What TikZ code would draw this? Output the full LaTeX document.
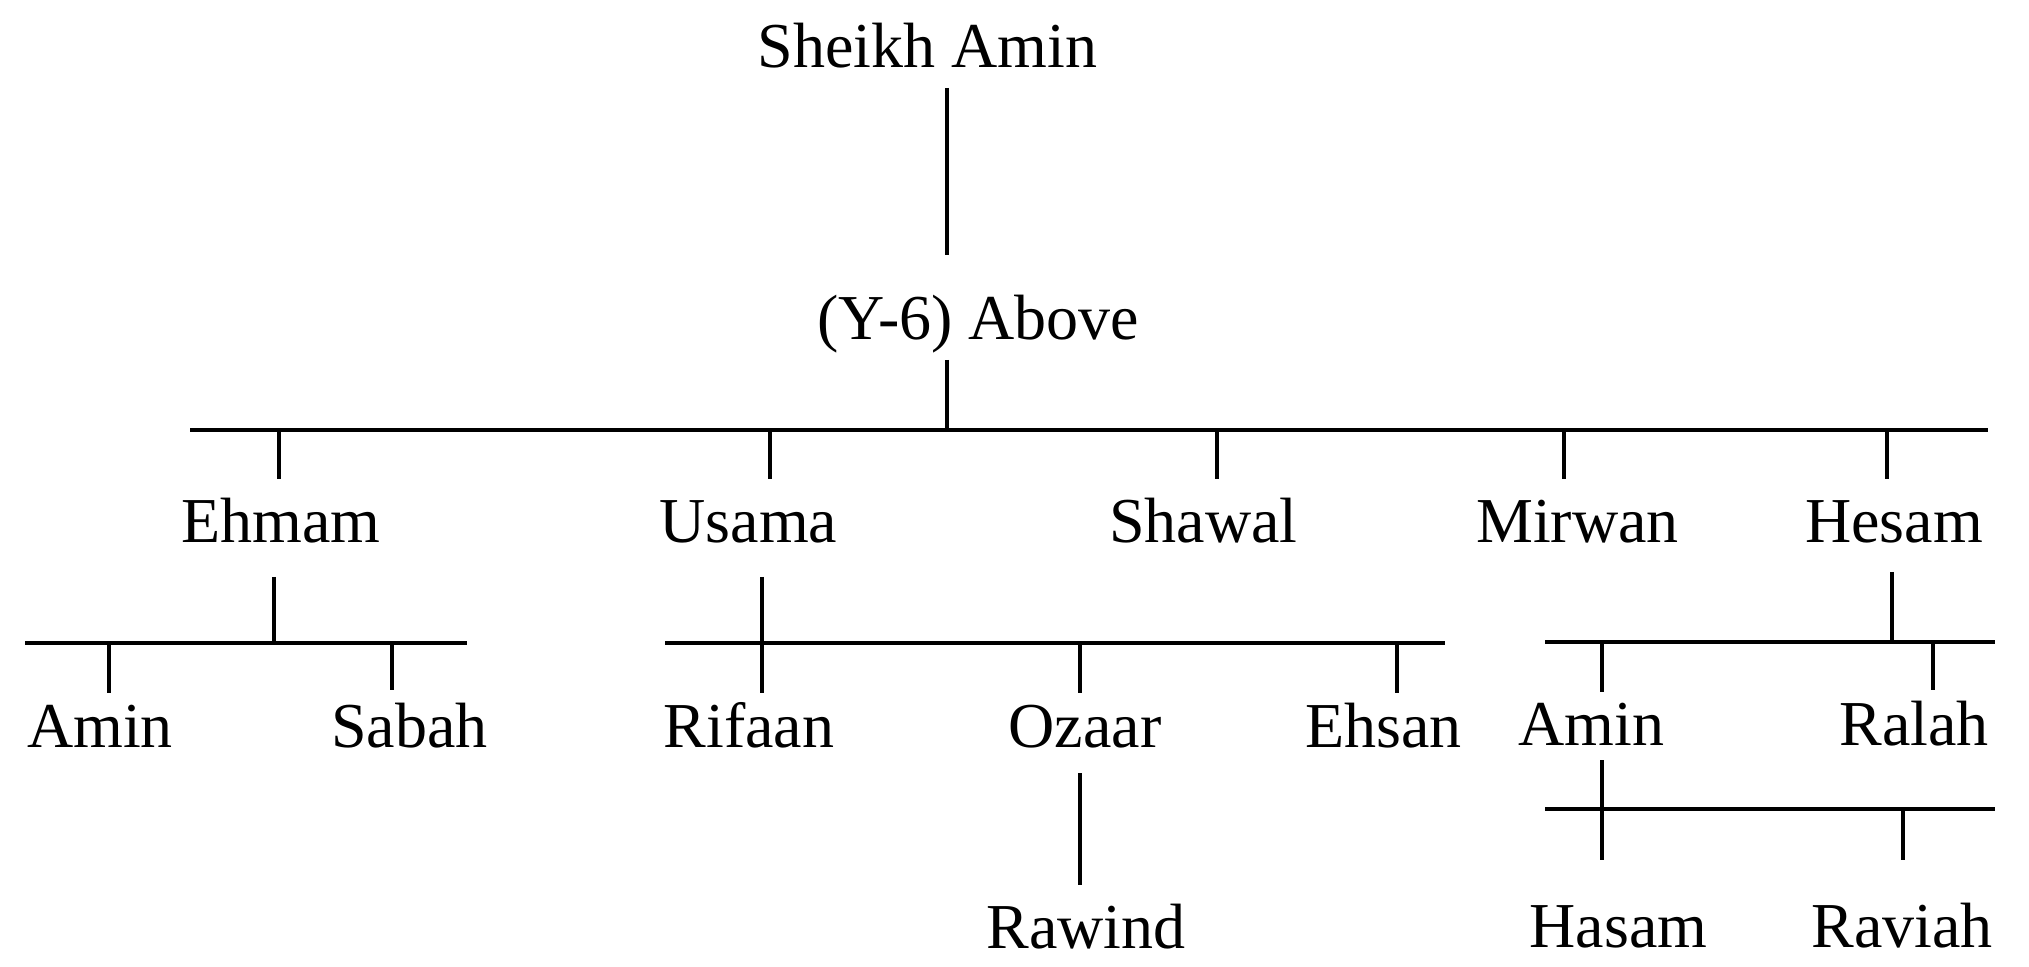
\documentclass[tikz,border=0pt]{standalone}
\usepackage{fontspec}
\setmainfont{Liberation Serif}
\begin{document}
\begin{tikzpicture}[x=0.5pt,y=-0.5pt,
  person/.style={anchor=base,inner sep=0pt,font=\fontsize{32}{38}\selectfont},
  conn/.style={line width=1.6pt,line cap=butt}]
\useasboundingbox (0,0) rectangle (2029,967);
% names
\node[person] (root)   at (927.5,68)  {Sheikh Amin};
\node[person] (above)  at (978.5,340) {(Y-6) Above};
\node[person] (ehmam)  at (281,543)   {Ehmam};
\node[person] (usama)  at (748.5,543) {Usama};
\node[person] (shawal) at (1203.5,543){Shawal};
\node[person] (mirwan) at (1577.5,543){Mirwan};
\node[person] (hesam)  at (1894,543)  {Hesam};
\node[person] (aminA)  at (100,747)   {Amin};
\node[person] (sabah)  at (409.5,747) {Sabah};
\node[person] (rifaan) at (749,747)   {Rifaan};
\node[person] (ozaar)  at (1085,747)  {Ozaar};
\node[person] (ehsan)  at (1383.5,747){Ehsan};
\node[person] (aminB)  at (1591.5,745){Amin};
\node[person] (ralah)  at (1914,745)  {Ralah};
\node[person] (rawind) at (1086,948)  {Rawind};
\node[person] (hasam)  at (1618.5,947){Hasam};
\node[person] (raviah) at (1902,947)  {Raviah};
% junction coordinates
\coordinate (rootB)  at (947,88);
\coordinate (aboveT) at (947,255);
\coordinate (aboveB) at (947,360);
\coordinate (barL)   at (190,430);
\coordinate (barR)   at (1988,430);
\coordinate (tEhmam)  at (279,479);
\coordinate (tUsama)  at (770,479);
\coordinate (tShawal) at (1217,479);
\coordinate (tMirwan) at (1564,479);
\coordinate (tHesam)  at (1887,479);
% Ehmam family
\coordinate (ehmamB) at (274,577);
\coordinate (ebarL)  at (25,643);
\coordinate (ebarR)  at (467,643);
\coordinate (tAminA) at (109,693);
\coordinate (tSabah) at (392,690);
% Usama family
\coordinate (usamaB)  at (762,577);
\coordinate (ubarL)   at (665,643);
\coordinate (ubarR)   at (1445,643);
\coordinate (tRifaan) at (762,693);
\coordinate (tOzaar)  at (1080,693);
\coordinate (tEhsan)  at (1397,693);
\coordinate (ozaarB)  at (1080,773);
\coordinate (tRawind) at (1080,885);
% Hesam family
\coordinate (hesamB) at (1892,572);
\coordinate (hbarL)  at (1545,642);
\coordinate (hbarR)  at (1995,642);
\coordinate (tAminB) at (1602,692);
\coordinate (tRalah) at (1933,690);
\coordinate (aminBB) at (1602,760);
\coordinate (abarL)  at (1545,809);
\coordinate (abarR)  at (1995,809);
\coordinate (tHasam) at (1602,860);
\coordinate (tRaviah) at (1903,860);
% connectors
\draw[conn] (rootB) -- (aboveT);
\draw[conn] (aboveB) -- (aboveB |- barL);
\draw[conn] (barL) -- (barR);
\foreach \c in {tEhmam,tUsama,tShawal,tMirwan,tHesam}
  \draw[conn] (\c |- barL) -- (\c);
\draw[conn] (ehmamB) -- (ehmamB |- ebarL);
\draw[conn] (ebarL) -- (ebarR);
\foreach \c in {tAminA,tSabah}
  \draw[conn] (\c |- ebarL) -- (\c);
\draw[conn] (usamaB) -- (usamaB |- ubarL);
\draw[conn] (ubarL) -- (ubarR);
\foreach \c in {tRifaan,tOzaar,tEhsan}
  \draw[conn] (\c |- ubarL) -- (\c);
\draw[conn] (ozaarB) -- (tRawind);
\draw[conn] (hesamB) -- (hesamB |- hbarL);
\draw[conn] (hbarL) -- (hbarR);
\foreach \c in {tAminB,tRalah}
  \draw[conn] (\c |- hbarL) -- (\c);
\draw[conn] (aminBB) -- (aminBB |- abarL);
\draw[conn] (abarL) -- (abarR);
\foreach \c in {tHasam,tRaviah}
  \draw[conn] (\c |- abarL) -- (\c);
\end{tikzpicture}
\end{document}
